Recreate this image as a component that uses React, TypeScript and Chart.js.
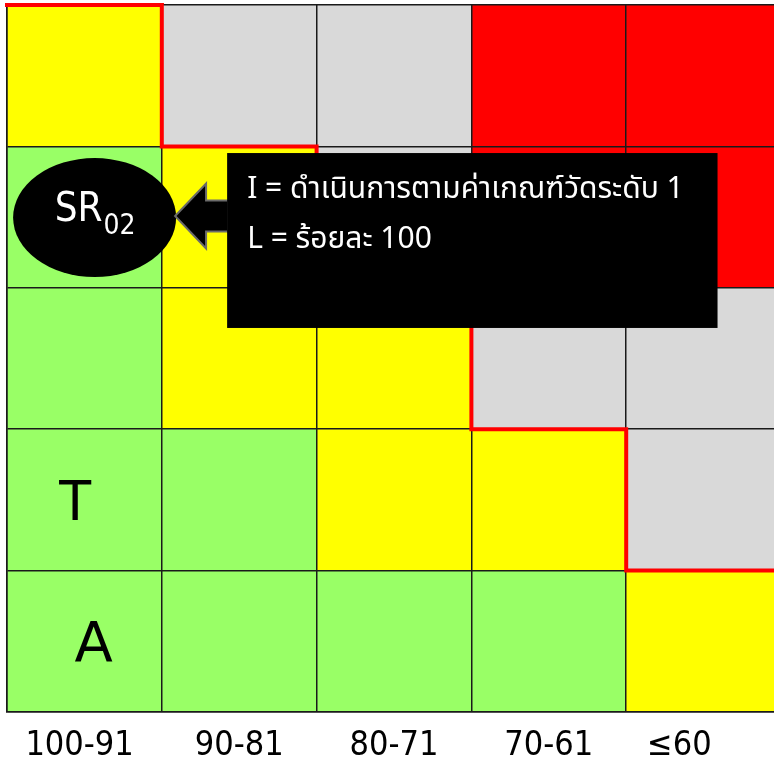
import React, { useEffect, useRef } from "react";
import { Chart, registerables } from "chart.js";

Chart.register(...registerables);

// Column categories (score ranges)
const columns = ["100-91", "90-81", "80-71", "70-61", "≤60"];

// Risk level of each cell, one array per row (bottom row first)
const row1Levels = ["green", "green", "green", "green", "yellow"];
const row2Levels = ["green", "green", "yellow", "yellow", "gray"];
const row3Levels = ["green", "yellow", "yellow", "gray", "gray"];
const row4Levels = ["green", "yellow", "gray", "red", "red"];
const row5Levels = ["yellow", "gray", "gray", "red", "red"];

// Every cell is one unit tall
const row1Values = [1, 1, 1, 1, 1];
const row2Values = [1, 1, 1, 1, 1];
const row3Values = [1, 1, 1, 1, 1];
const row4Values = [1, 1, 1, 1, 1];
const row5Values = [1, 1, 1, 1, 1];

// Row labels in the first column (bottom row first)
const rowLabels = ["A", "T", "", "", ""];

// Acceptance boundary (step line)
const boundaryX = [0, 1, 1, 2, 2, 3, 3, 4, 4, 5];
const boundaryY = [5, 5, 4, 4, 3, 3, 2, 2, 1, 1];

// Marker + callout
const markerMain = "SR";
const markerSub = "02";
const calloutLines = ["I = ดำเนินการตามค่าเกณฑ์วัดระดับ 1", "L = ร้อยละ 100"];

const levelColors: Record<string, string> = {
  green: "#99FF66",
  yellow: "#FFFF00",
  gray: "#D9D9D9",
  red: "#FF0000",
};

const GRID = "#1a1a1a";
const THAI_FONT = "'Noto Sans Thai', Tahoma, 'DejaVu Sans', sans-serif";
const COND_FONT = "'DejaVu Sans Condensed', 'DejaVu Sans', sans-serif";

const overlayPlugin = {
  id: "overlay",
  afterDraw(chart: any) {
    const ctx = chart.ctx as CanvasRenderingContext2D;
    const xl = chart.scales.xl;
    const y = chart.scales.y;
    const px = (v: number) => xl.getPixelForValue(v);
    const py = (v: number) => y.getPixelForValue(v);

    // redraw boundary line on top of grid
    const lineMeta = chart.getDatasetMeta(chart.data.datasets.length - 1);
    if (lineMeta && lineMeta.dataset) {
      lineMeta.dataset.draw(ctx, chart.chartArea);
    }

    ctx.save();
    // Row labels
    ctx.fillStyle = "#000";
    ctx.textAlign = "center";
    ctx.textBaseline = "alphabetic";
    rowLabels.forEach((lab, i) => {
      if (!lab) return;
      if (lab === "T") {
        ctx.font = "57px 'Liberation Sans', Arial, sans-serif";
        ctx.fillText(lab, px(0.44), py(i + 0.5) + 20);
      } else {
        ctx.font = "56px 'DejaVu Sans', sans-serif";
        ctx.fillText(lab, px(0.56), py(i + 0.5) + 20);
      }
    });

    // Marker ellipse
    const cx = px(0.566);
    const cy = py(3.497);
    ctx.fillStyle = "#000";
    ctx.beginPath();
    ctx.ellipse(cx, cy, 81.5, 59.5, 0, 0, Math.PI * 2);
    ctx.fill();
    ctx.fillStyle = "#fff";
    ctx.textAlign = "left";
    ctx.font = `40px ${COND_FONT}`;
    const wMain = ctx.measureText(markerMain).width;
    ctx.font = `28px ${COND_FONT}`;
    const wSub = ctx.measureText(markerSub).width;
    const sx = cx - (wMain + wSub) / 2;
    ctx.font = `40px ${COND_FONT}`;
    ctx.fillText(markerMain, sx, cy + 3);
    ctx.font = `28px ${COND_FONT}`;
    ctx.fillText(markerSub, sx + wMain + 1, cy + 16);

    // Callout box
    const bl = px(1.422);
    const br = px(4.59);
    const bt = py(3.953);
    const bb = py(2.716);
    // arrow
    const tipX = px(1.086);
    const headX = px(1.286);
    const ay = py(3.508);
    ctx.beginPath();
    ctx.moveTo(bl + 1, ay - 15.5);
    ctx.lineTo(headX, ay - 15.5);
    ctx.lineTo(headX, ay - 32.5);
    ctx.lineTo(tipX, ay);
    ctx.lineTo(headX, ay + 32.5);
    ctx.lineTo(headX, ay + 15.5);
    ctx.lineTo(bl + 1, ay + 15.5);
    ctx.closePath();
    ctx.fillStyle = "#000";
    ctx.fill();
    ctx.strokeStyle = "#6b6b6b";
    ctx.lineWidth = 2;
    ctx.lineJoin = "miter";
    ctx.stroke();

    ctx.fillStyle = "#000";
    ctx.fillRect(bl, bt, br - bl, bb - bt);

    ctx.fillStyle = "#fff";
    ctx.font = `30px ${THAI_FONT}`;
    ctx.textAlign = "left";
    ctx.fillText(calloutLines[0], bl + 20, bt + 45);
    ctx.fillText(calloutLines[1], bl + 20, bt + 95);
    ctx.restore();
  },
};

export default function App() {
  const ref = useRef<HTMLCanvasElement | null>(null);

  useEffect(() => {
    if (!ref.current) return;
    const rows = [
      { levels: row1Levels, values: row1Values },
      { levels: row2Levels, values: row2Values },
      { levels: row3Levels, values: row3Values },
      { levels: row4Levels, values: row4Values },
      { levels: row5Levels, values: row5Values },
    ];
    const datasets: any[] = rows.map((r, i) => ({
      type: "bar",
      label: `row${i + 1}`,
      data: r.values,
      backgroundColor: r.levels.map((l) => levelColors[l]),
      borderWidth: 0,
      barPercentage: 1,
      categoryPercentage: 1,
      grouped: false,
      stack: "grid",
      xAxisID: "x",
      yAxisID: "y",
    }));
    datasets.push({
      type: "line",
      label: "boundary",
      data: boundaryX.map((x, i) => ({ x, y: boundaryY[i] })),
      xAxisID: "xl",
      yAxisID: "y",
      stack: "boundary",
      borderColor: "#FF0000",
      borderWidth: 4,
      borderJoinStyle: "miter",
      borderCapStyle: "square",
      pointRadius: 0,
      tension: 0,
      fill: false,
      clip: false,
    });

    const chart = new Chart(ref.current, {
      type: "bar",
      data: { labels: columns, datasets },
      options: {
        responsive: false,
        maintainAspectRatio: false,
        animation: false,
        events: [],
        layout: { padding: { left: 7, top: 5, right: 0, bottom: 0 } },
        plugins: { legend: { display: false }, tooltip: { enabled: false } },
        scales: {
          x: {
            type: "category",
            stacked: true,
            offset: true,
            position: "bottom",
            grid: { offset: true, color: GRID, lineWidth: 1.5, drawTicks: false, z: 1 },
            border: { display: true, color: GRID, width: 1.5, z: 1 },
            ticks: {
              color: "#000",
              font: { family: COND_FONT, size: 34 },
              padding: 14,
              maxRotation: 0,
              autoSkip: false,
              callback: (_v: any, i: number) =>
                i === columns.length - 1
                  ? columns[i] + "\u00a0\u00a0\u00a0\u00a0\u00a0"
                  : i === 0
                  ? columns[i] + "\u00a0"
                  : columns[i],
            },
            afterFit: (s: any) => {
              s.height = 48;
            },
          },
          xl: {
            type: "linear",
            axis: "x",
            position: "bottom",
            min: 0,
            max: 5,
            offset: false,
            display: true,
            ticks: { display: false },
            grid: { display: false, drawTicks: false, offset: false },
            border: { display: false },
            afterFit: (s: any) => {
              s.height = 0;
            },
          },
          y: {
            type: "linear",
            axis: "y",
            position: "left",
            stacked: true,
            min: 0,
            max: 5,
            ticks: { display: false, stepSize: 1 },
            grid: { color: GRID, lineWidth: 1.5, drawTicks: false, z: 1 },
            border: { display: true, color: GRID, width: 1.5, z: 1 },
            afterFit: (s: any) => {
              s.width = 0;
            },
          },
        },
      } as any,
      plugins: [overlayPlugin],
    });
    return () => chart.destroy();
  }, []);

  return (
    <div
      style={{
        position: "fixed",
        left: 0,
        top: 0,
        width: 774,
        height: 760,
        overflow: "hidden",
        background: "#fff",
      }}
    >
      <canvas ref={ref} width={781} height={760} style={{ display: "block" }} />
    </div>
  );
}
